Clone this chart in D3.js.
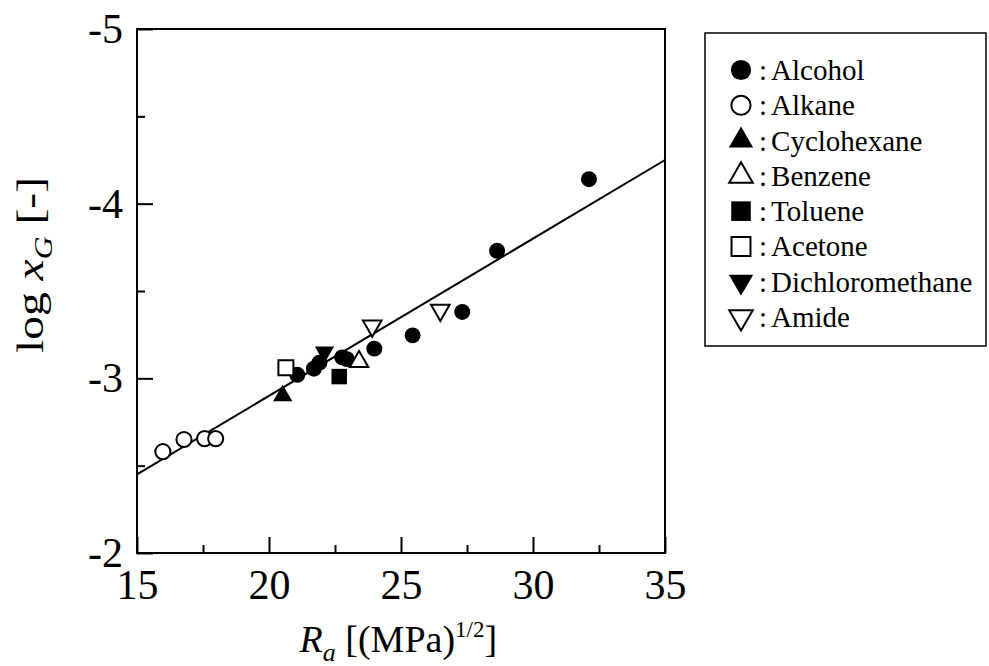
<!DOCTYPE html>
<html>
<head>
<meta charset="utf-8">
<script src="https://cdn.jsdelivr.net/npm/d3@7"></script>
<style>
  body { margin: 0; background: #fff; }
  svg, svg text { font-family: "Liberation Serif", "Times New Roman", serif; }
</style>
</head>
<body>
<div id="chart"></div>
<script>
// solvent groups, [Ra, log xG]
const alcohol = [[21.07, -3.02], [21.70, -3.055], [21.91, -3.09], [22.77, -3.12], [22.95, -3.11],
                 [23.99, -3.17], [25.44, -3.246], [27.32, -3.38], [28.64, -3.73], [32.12, -4.14]];
const alkane = [[15.98, -2.58], [16.78, -2.65], [17.56, -2.655], [17.98, -2.655]];
const cyclohexane = [[20.52, -2.9]];
const benzene = [[23.41, -3.095]];
const toluene = [[22.66, -3.01]];
const acetone = [[20.64, -3.06]];
const dichloromethane = [[22.10, -3.15]];
const amide = [[23.91, -3.30], [26.49, -3.39]];

// fitted line end points
const fitLine = [[15, -2.45], [35, -4.25]];

const xTicks = [15, 20, 25, 30, 35];
const xMinor = [17.5, 22.5, 27.5, 32.5];
const yTicks = [-5, -4, -3, -2];
const yMinor = [-4.5, -3.5, -2.5];

const width = 989;
const height = 666;
const margin = { top: 29, right: 324, bottom: 113, left: 137 };

const svg = d3.select('#chart')
    .append('svg')
    .attr('width', width)
    .attr('height', height);

const scaleX = d3.scaleLinear()
    .domain([15, 35])
    .range([margin.left, width - margin.right]);

const scaleY = d3.scaleLinear()
    .domain([-2, -5])
    .range([height - margin.bottom, margin.top]);

// marker styles
const series = [
    { name: 'Alcohol', data: alcohol, type: d3.symbolCircle, size: 200, fill: true, rot: 0 },
    { name: 'Alkane', data: alkane, type: d3.symbolCircle, size: 180, fill: false, rot: 0 },
    { name: 'Cyclohexane', data: cyclohexane, type: d3.symbolTriangle, size: 160, fill: true, rot: 0 },
    { name: 'Benzene', data: benzene, type: d3.symbolTriangle, size: 150, fill: false, rot: 0 },
    { name: 'Toluene', data: toluene, type: d3.symbolSquare, size: 240, fill: true, rot: 0 },
    { name: 'Acetone', data: acetone, type: d3.symbolSquare, size: 225, fill: false, rot: 0 },
    { name: 'Dichloromethane', data: dichloromethane, type: d3.symbolTriangle, size: 160, fill: true, rot: 180 },
    { name: 'Amide', data: amide, type: d3.symbolTriangle, size: 150, fill: false, rot: 180 }
];

const fmt = d => String(d);

// X axis
const xAxis = svg.append('g')
    .attr('transform', `translate(0, ${height - margin.bottom})`)
    .call(d3.axisBottom(scaleX).tickValues(xTicks).tickSize(-16).tickPadding(16).tickFormat(fmt));
xAxis.attr('font-family', null);
xAxis.select('.domain').remove();
xAxis.selectAll('text').style('font-size', '42px').attr('fill', '#000');
xAxis.selectAll('line').attr('stroke', '#000').attr('stroke-width', 2);

svg.append('g')
    .attr('transform', `translate(0, ${height - margin.bottom})`)
    .call(d3.axisBottom(scaleX).tickValues(xMinor).tickSize(-8).tickFormat(''))
    .call(g => g.select('.domain').remove())
    .selectAll('line').attr('stroke', '#000').attr('stroke-width', 2);

// Y axis
const yAxis = svg.append('g')
    .attr('transform', `translate(${margin.left}, 0)`)
    .call(d3.axisLeft(scaleY).tickValues(yTicks).tickSize(-16).tickPadding(14).tickFormat(fmt));
yAxis.attr('font-family', null);
yAxis.select('.domain').remove();
yAxis.selectAll('text').style('font-size', '42px').attr('fill', '#000');
yAxis.selectAll('line').attr('stroke', '#000').attr('stroke-width', 2);

svg.append('g')
    .attr('transform', `translate(${margin.left}, 0)`)
    .call(d3.axisLeft(scaleY).tickValues(yMinor).tickSize(-8).tickFormat(''))
    .call(g => g.select('.domain').remove())
    .selectAll('line').attr('stroke', '#000').attr('stroke-width', 2);

// frame
svg.append('rect')
    .attr('x', scaleX(15))
    .attr('y', scaleY(-5))
    .attr('width', scaleX(35) - scaleX(15))
    .attr('height', scaleY(-2) - scaleY(-5))
    .attr('fill', 'none')
    .attr('stroke', '#000')
    .attr('stroke-width', 2);

// fit line
svg.append('path')
    .attr('d', d3.line().x(d => scaleX(d[0])).y(d => scaleY(d[1]))(fitLine))
    .attr('fill', 'none')
    .attr('stroke', '#000')
    .attr('stroke-width', 2);

// points
series.forEach(s => {
    svg.append('g')
        .selectAll('path')
        .data(s.data)
        .enter()
        .append('path')
        .attr('d', d3.symbol(s.type, s.size))
        .attr('transform', d => `translate(${scaleX(d[0])},${scaleY(d[1])}) rotate(${s.rot})`)
        .attr('fill', s.fill ? '#000' : '#fff')
        .attr('stroke', '#000')
        .attr('stroke-width', s.fill ? 0 : 2);
});

// axis titles
svg.append('text')
    .attr('x', scaleX(24.9))
    .attr('y', 652)
    .attr('text-anchor', 'middle')
    .style('font-size', '38px')
    .html('<tspan font-style="italic">R</tspan><tspan font-style="italic" font-size="26px" dy="9">a</tspan><tspan dy="-9"> [(MPa)</tspan><tspan font-size="23px" dy="-15">1/2</tspan><tspan dy="15">]</tspan>');

svg.append('text')
    .attr('transform', `translate(43, 265) rotate(-90) scale(1.22, 0.95)`)
    .attr('text-anchor', 'middle')
    .style('font-size', '39px')
    .html('log <tspan font-style="italic">x</tspan><tspan font-style="italic" font-size="26px" dy="9">G</tspan><tspan dy="-9"> [-]</tspan>');

// legend
const legend = svg.append('g');
legend.append('rect')
    .attr('x', 705)
    .attr('y', 33)
    .attr('width', 281)
    .attr('height', 313)
    .attr('fill', 'none')
    .attr('stroke', '#000')
    .attr('stroke-width', 1.5);

const legendY = d3.scalePoint()
    .domain(series.map(s => s.name))
    .range([70, 317]);

const item = legend.selectAll('g.item')
    .data(series)
    .enter()
    .append('g')
    .attr('class', 'item')
    .attr('transform', d => `translate(0, ${legendY(d.name)})`);

item.append('path')
    .attr('d', d => d3.symbol(d.type, d.size * 1.6)())
    .attr('transform', d => `translate(741, 0) rotate(${d.rot})`)
    .attr('fill', d => d.fill ? '#000' : '#fff')
    .attr('stroke', '#000')
    .attr('stroke-width', d => d.fill ? 0 : 2);

const label = item.append('text')
    .attr('x', 759)
    .attr('y', 10)
    .style('font-size', '29px');
label.append('tspan').text(':');
label.append('tspan').attr('dx', 4).text(d => d.name);
</script>
</body>
</html>
